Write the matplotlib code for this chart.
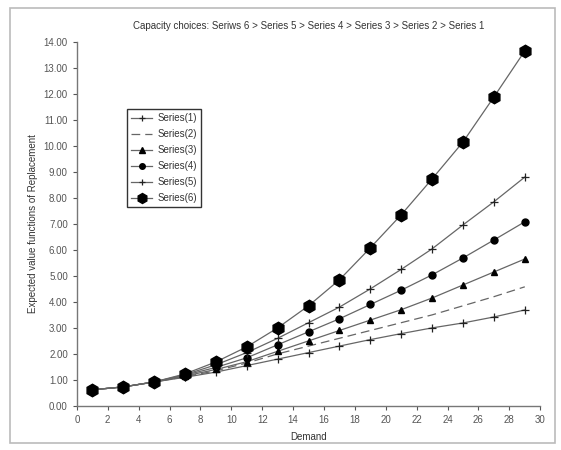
import matplotlib
matplotlib.use('Agg')
import matplotlib.pyplot as plt
from matplotlib.patches import Rectangle

# demand points
demand = [1, 3, 5, 7, 9, 11, 13, 15, 17, 19, 21, 23, 25, 27, 29]

s1 = [0.62, 0.73, 0.92, 1.10, 1.30, 1.55, 1.80, 2.05, 2.30, 2.55, 2.78, 3.00, 3.19, 3.42, 3.69]
s2 = [0.62, 0.73, 0.92, 1.12, 1.35, 1.65, 2.00, 2.30, 2.60, 2.90, 3.20, 3.50, 3.85, 4.20, 4.58]
s3 = [0.62, 0.73, 0.92, 1.15, 1.40, 1.70, 2.10, 2.50, 2.90, 3.30, 3.70, 4.15, 4.65, 5.15, 5.65]
s4 = [0.62, 0.73, 0.92, 1.18, 1.48, 1.85, 2.35, 2.85, 3.35, 3.90, 4.45, 5.04, 5.69, 6.38, 7.08]
s5 = [0.62, 0.73, 0.92, 1.20, 1.58, 2.05, 2.60, 3.20, 3.80, 4.50, 5.25, 6.04, 6.96, 7.85, 8.80]
s6 = [0.62, 0.73, 0.92, 1.23, 1.69, 2.27, 3.00, 3.85, 4.85, 6.08, 7.35, 8.73, 10.15, 11.88, 13.65]

labels = ['Series(1)', 'Series(2)', 'Series(3)', 'Series(4)', 'Series(5)', 'Series(6)']
xticks = list(range(0, 31, 2))
yticks = list(range(0, 15))

plt.rcParams['font.family'] = ['Liberation Sans', 'DejaVu Sans']
fig = plt.figure(figsize=(5.61, 4.5), dpi=100)
ax = fig.add_axes([0.137, 0.098, 0.826, 0.809])

lc = '#666666'
ax.plot(demand, s1, color=lc, lw=0.9, marker='+', ms=6, mec='#222222', mew=0.9, label=labels[0])
ax.plot(demand, s2, color=lc, lw=0.9, ls=(0, (7, 4)), label=labels[1])
ax.plot(demand, s3, color=lc, lw=0.9, marker='^', ms=5, mfc='black', mec='black', label=labels[2])
ax.plot(demand, s4, color=lc, lw=0.9, marker='o', ms=5, mfc='black', mec='black', label=labels[3])
ax.plot(demand, s5, color=lc, lw=0.9, marker='+', ms=6, mec='#222222', mew=0.9, label=labels[4])
ax.plot(demand, s6, color=lc, lw=0.9, marker='h', ms=9, mfc='black', mec='black', label=labels[5])

ax.set_xlim(0, 30)
ax.set_ylim(0, 14)
ax.set_xticks(xticks)
ax.set_yticks(yticks)
ax.set_yticklabels(['%.2f' % v for v in yticks])
ax.tick_params(labelsize=7, colors='#555555', length=3, width=0.8, direction='out')
for s in ['top', 'right']:
    ax.spines[s].set_visible(False)
for s in ['left', 'bottom']:
    ax.spines[s].set_color('#777777')
    ax.spines[s].set_linewidth(1.0)

ax.set_xlabel('Demand', fontsize=7, color='#333333', labelpad=5)
ax.set_ylabel('Expected value functions of Replacement', fontsize=7, color='#333333', labelpad=4)
ax.set_title('Capacity choices: Seriws 6 > Series 5 > Series 4 > Series 3 > Series 2 > Series 1',
             fontsize=7, color='#333333', pad=9)

leg = ax.legend(loc='upper left', bbox_to_anchor=(0.097, 0.83), fontsize=7, frameon=True,
                fancybox=False, edgecolor='black', handlelength=2.2, labelspacing=0.62,
                borderpad=0.45, handletextpad=0.5, markerscale=0.8)
leg.get_frame().set_linewidth(1.0)
for t in leg.get_texts():
    t.set_color('#333333')

# outer gray frame
fig.patches.append(Rectangle((0.018, 0.015), 0.972, 0.967, transform=fig.transFigure,
                             fill=False, edgecolor='#bbbbbb', lw=1.2))

plt.savefig('out.png', dpi=100)
